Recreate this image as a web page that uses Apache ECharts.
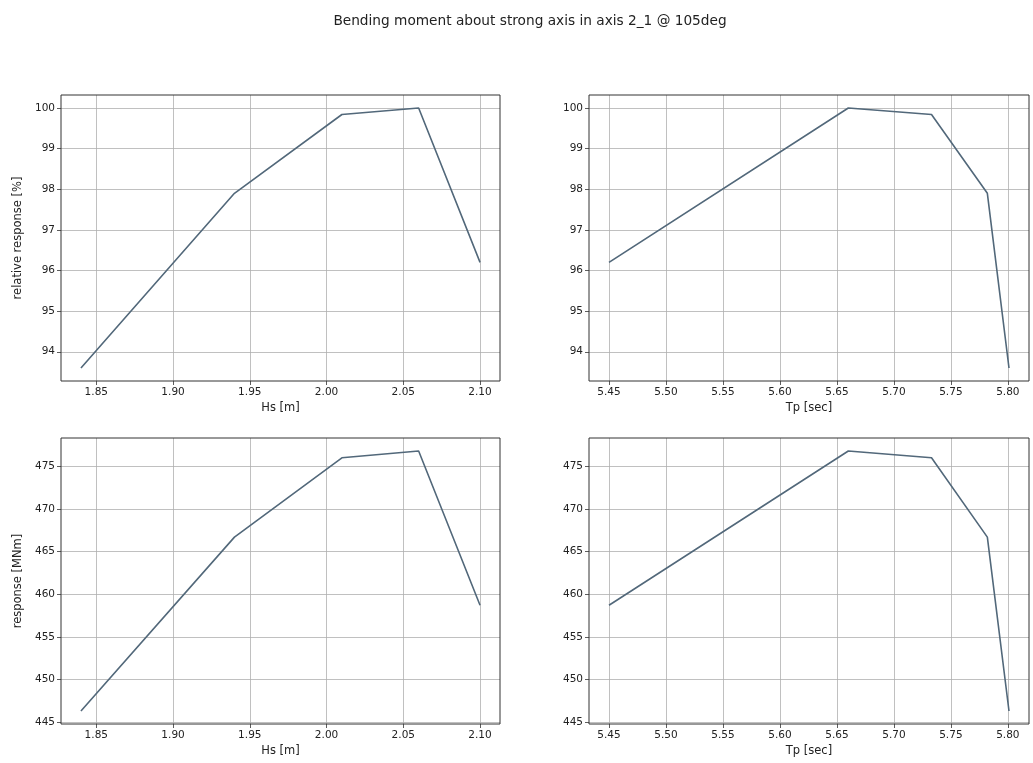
<!DOCTYPE html>
<html>
<head>
<meta charset="utf-8">
<script src="https://cdn.jsdelivr.net/npm/echarts@6/dist/echarts.min.js"></script>
<style>
  html, body { margin: 0; padding: 0; background: #fff; }
  #chart { width: 1033px; height: 763px; }
</style>
</head>
<body>
<div id="chart"></div>
<script>
// values, one entry per sea state
var hsValues = [1.84, 1.94, 2.01, 2.06, 2.10];
var tpValues = [5.801, 5.782, 5.733, 5.66, 5.45];
var relResponse = [93.6, 97.9, 99.84, 100.0, 96.2];
var response = [446.3, 466.7, 476.0, 476.8, 458.7];

var titleText = 'Bending moment about strong axis in axis 2_1 @ 105deg';
var lineColor = '#52687a';
var font = 'DejaVu Sans';

function pairs (xs, ys) {
  return xs.map(function (x, i) { return [x, ys[i]] })
}

// matplotlib style 5% padding round the data
function padMin (v) { return v.min - 0.05 * (v.max - v.min) }
function padMax (v) { return v.max + 0.05 * (v.max - v.min) }

function xAxis (grid, step, name) {
  return {
    type: 'value',
    gridIndex: grid,
    min: padMin,
    max: padMax,
    minInterval: step,
    maxInterval: step,
    name: name,
    nameLocation: 'middle',
    nameGap: 21,
    nameTextStyle: { fontFamily: font, fontSize: 11.5, color: '#222' },
    axisLine: { show: false },
    axisTick: { show: true, length: 4, lineStyle: { color: '#333', width: 0.8 } },
    axisLabel: {
      showMinLabel: false,
      showMaxLabel: false,
      margin: 6,
      fontFamily: font,
      fontSize: 10.5,
      color: '#222',
      formatter: function (v) { return v.toFixed(2) }
    },
    splitLine: { show: true, showMinLine: false, showMaxLine: false, lineStyle: { color: '#b0b0b0', width: 0.8 } }
  }
}

function yAxis (grid, step, name) {
  return {
    type: 'value',
    gridIndex: grid,
    min: padMin,
    max: padMax,
    minInterval: step,
    maxInterval: step,
    name: name,
    nameLocation: 'middle',
    nameGap: 37,
    nameTextStyle: { fontFamily: font, fontSize: 11.5, color: '#222' },
    axisLine: { show: false },
    axisTick: { show: true, length: 4, lineStyle: { color: '#333', width: 0.8 } },
    axisLabel: {
      showMinLabel: false,
      showMaxLabel: false,
      margin: 6,
      fontFamily: font,
      fontSize: 10.5,
      color: '#222'
    },
    splitLine: { show: true, showMinLine: false, showMaxLine: false, lineStyle: { color: '#b0b0b0', width: 0.8 } }
  }
}

function lineSeries (i, data) {
  return {
    type: 'line',
    xAxisIndex: i,
    yAxisIndex: i,
    data: data,
    symbol: 'none',
    silent: true,
    lineStyle: { color: lineColor, width: 1.6 }
  }
}

var gridBox = { show: true, borderColor: '#333', borderWidth: 1, backgroundColor: 'transparent', z: 10 }

var chart = echarts.init(document.getElementById('chart'))
chart.setOption({
  animation: false,
  title: {
    text: titleText,
    left: 525,
    textAlign: 'center',
    top: 9,
    textStyle: { fontFamily: font, fontSize: 13.7, fontWeight: 'normal', color: '#222' }
  },
  grid: [
    Object.assign({ left: 61, top: 95, width: 439, height: 286 }, gridBox),
    Object.assign({ left: 589, top: 95, width: 440, height: 286 }, gridBox),
    Object.assign({ left: 61, top: 438, width: 439, height: 286 }, gridBox),
    Object.assign({ left: 589, top: 438, width: 440, height: 286 }, gridBox)
  ],
  xAxis: [
    xAxis(0, 0.05, 'Hs [m]'),
    xAxis(1, 0.05, 'Tp [sec]'),
    xAxis(2, 0.05, 'Hs [m]'),
    xAxis(3, 0.05, 'Tp [sec]')
  ],
  yAxis: [
    yAxis(0, 1, 'relative response [%]'),
    yAxis(1, 1, ''),
    yAxis(2, 5, 'response [MNm]'),
    yAxis(3, 5, '')
  ],
  series: [
    lineSeries(0, pairs(hsValues, relResponse)),
    lineSeries(1, pairs(tpValues, relResponse)),
    lineSeries(2, pairs(hsValues, response)),
    lineSeries(3, pairs(tpValues, response))
  ]
})
</script>
</body>
</html>
